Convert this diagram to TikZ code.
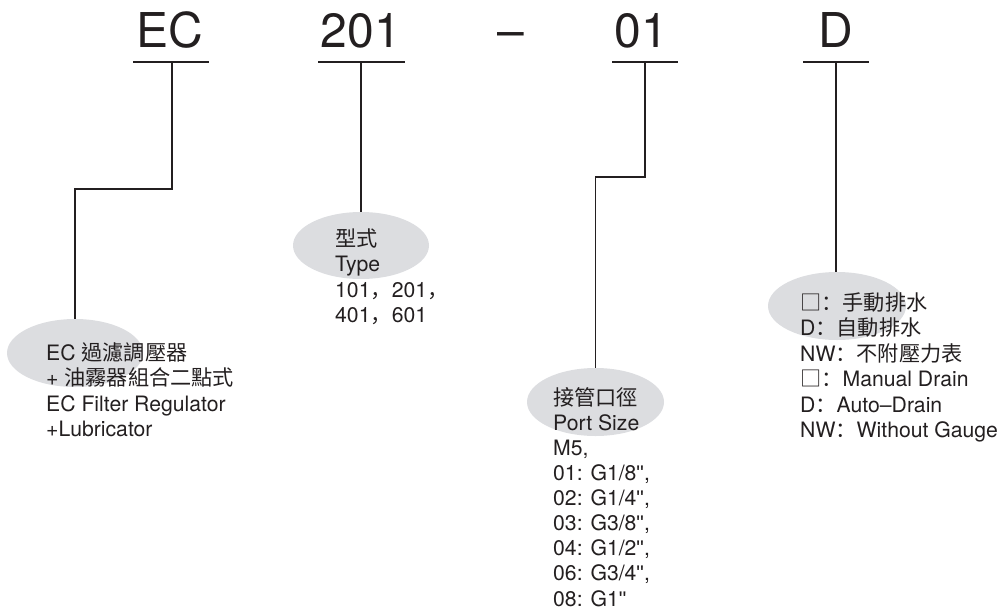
\documentclass[tikz,border=0pt]{standalone}
\usepackage{fontspec}
\usetikzlibrary{shapes.geometric}
\setmainfont{TeX Gyre Heros}
\newfontfamily\cjk{Noto Sans CJK TC}
\newfontfamily\pct{Noto Sans CJK SC}
\newfontfamily\quo{Liberation Sans}
\definecolor{ink}{HTML}{231F20}
\definecolor{oval}{HTML}{DCDDE0}
\newcommand{\cl}{{\pct ：}}
\newcommand{\cm}{{\pct ，}}
\newcommand{\bx}{{\pct □}}
\newcommand{\qt}{{\quo\symbol{34}}}
\begin{document}
\begin{tikzpicture}[x=1pt,y=-1pt,
  title/.style={text=ink,inner sep=0pt,anchor=base,font=\fontsize{48}{48}\selectfont},
  oval/.style={ellipse,fill=oval,inner sep=0pt},
  body/.style={text=ink,inner sep=0pt,anchor=base west,align=left,font=\fontsize{21.2}{25.4}\selectfont},
  tight/.style={body,font=\fontsize{21.2}{25.1}\selectfont},
  rule/.style={draw=ink,line width=1.6pt},
  link/.style={draw=ink,line width=1.5pt}]
\useasboundingbox (0,0) rectangle (999,611);
% ovals
\node[oval,minimum width=136pt,minimum height=68pt] (ovalA) at (75,353) {};
\node[oval,minimum width=136pt,minimum height=67pt] (ovalB) at (361,245.5) {};
\node[oval,minimum width=137pt,minimum height=68pt] (ovalC) at (595.5,402) {};
\node[oval,minimum width=138pt,minimum height=68pt] (ovalD) at (837,306) {};
% titles
\node[title] (tA) at (170,47) {EC};
\node[title] (tB) at (361,47) {201};
\node[title] (tM) at (510.5,47) {–};
\node[title] (tC) at (641,47) {01};
\node[title] (tD) at (836,47) {D};
% rules under titles
\coordinate (rAl) at (133,62); \coordinate (rAr) at (209,62);
\coordinate (rBl) at (318,62); \coordinate (rBr) at (405,62);
\coordinate (rCl) at (612,62); \coordinate (rCr) at (678,62);
\coordinate (rDl) at (803,62); \coordinate (rDr) at (869,62);
\draw[rule] (rAl) -- (rAr);
\draw[rule] (rBl) -- (rBr);
\draw[rule] (rCl) -- (rCr);
\draw[rule] (rDl) -- (rDr);
% connectors
\coordinate (jA) at (172,62); \coordinate (jB) at (361,62);
\coordinate (jC) at (645,62); \coordinate (jD) at (836,62);
\draw[link] (jA) -- (jA |- 0,189) -| (ovalA.north);
\draw[link] (jB) -- (ovalB.north);
\draw[link] (jC) -- (jC |- 0,177) -| (ovalC.north);
\draw[link] (jD) -- (jD |- ovalD.north);
% texts
\node[body] (xA) at (46,436.7) {EC {\cjk 過濾調壓器}\\+ {\cjk 油霧器組合二點式}\\EC Filter Regulator\\+Lubricator};
\node[body] (xB) at (335,322.7) {{\cjk 型式}\\Type\\101\cm 201\cm\\401\cm 601};
\node[tight] (xC) at (553,606) {{\cjk 接管口徑}\\Port Size\\M5,\\01: G1/8\qt,\\02: G1/4\qt,\\03: G3/8\qt,\\04: G1/2\qt,\\06: G3/4\qt,\\08: G1\qt};
\node[body] (xD) at (800,437.5) {\bx\cl{\cjk 手動排水}\\D\cl{\cjk 自動排水}\\NW\cl{\cjk 不附壓力表}\\\bx\cl Manual Drain\\D\cl Auto–Drain\\NW\cl Without Gauge};
\end{tikzpicture}
\end{document}
